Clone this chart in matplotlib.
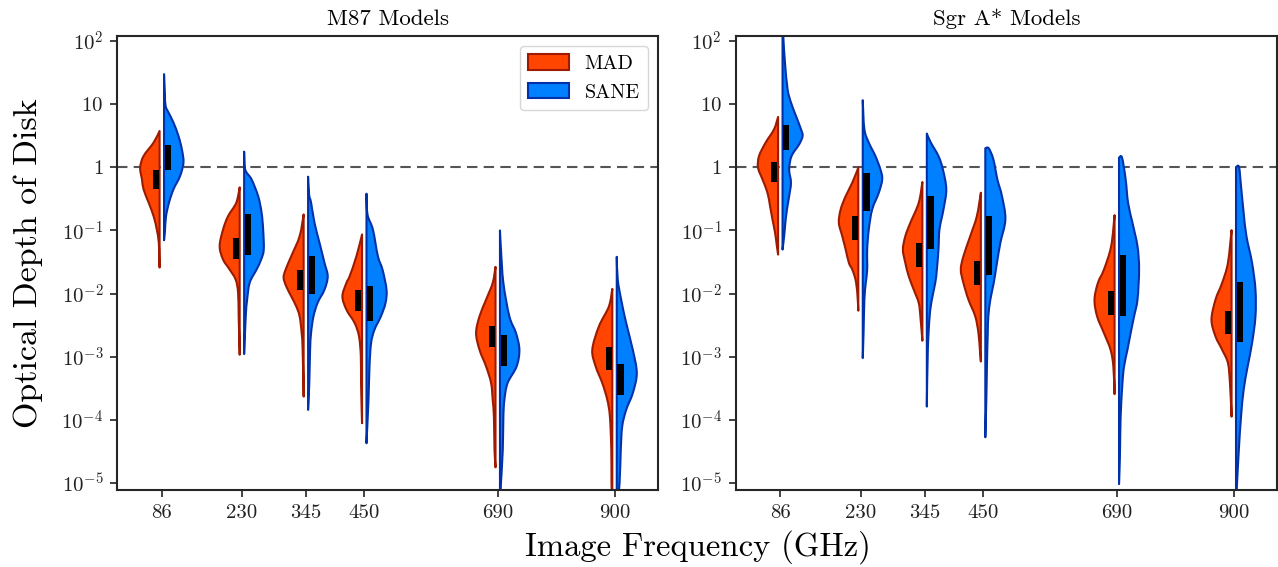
import matplotlib
matplotlib.use("Agg")
import matplotlib.pyplot as plt
import matplotlib.patches as patches
from matplotlib.path import Path
import numpy as np

plt.rcParams['font.family'] = ['cmr10', 'DejaVu Serif']
plt.rcParams['mathtext.fontset'] = 'cm'
plt.rcParams['axes.unicode_minus'] = False

freqs = [86, 230, 345, 450, 690, 900]
panel_titles = ['M87 Models', 'Sgr A* Models']
hue_names = ['MAD', 'SANE']
ytick_exp = [-5, -4, -3, -2, -1, 0, 1, 2]
ytick_labels = ['$10^{-5}$', '$10^{-4}$', '$10^{-3}$', '$10^{-2}$', '$10^{-1}$', '$1$', '$10$', '$10^{2}$']

# violin outlines: log10(tau) knots and relative half-width
m87_mad_logs = [
    [0.576, 0.392, 0.179, -0.005, -0.19, -0.349, -0.556, -0.773, -0.984, -1.19, -1.4, -1.587],
    [-0.317, -0.56, -0.773, -0.984, -1.249, -1.46, -1.619, -1.778, -1.984, -2.36, -2.968],
    [-0.746, -1.09, -1.408, -1.619, -1.746, -1.884, -2.043, -2.202, -2.36, -2.619, -2.889, -3.63],
    [-1.063, -1.408, -1.725, -1.83, -2.043, -2.254, -2.465, -2.678, -2.995, -3.413, -4.052],
    [-1.576, -1.83, -2.095, -2.36, -2.624, -2.889, -3.154, -3.417, -3.683, -3.948, -4.476, -4.751],
    [-1.925, -2.202, -2.519, -2.889, -3.154, -3.417, -3.683, -3.948, -4.476, -5.0, -5.4],
]
m87_mad_dens = [
    [0, .30, .80, .97, .88, .80, .55, .30, .14, .04, .02, 0],
    [0, .17, .58, .83, 1.0, .83, .50, .20, .08, .05, 0],
    [0, .20, .62, .90, 1.0, .87, .62, .37, .20, .10, .05, 0],
    [0, .28, .62, .78, .98, .78, .37, .15, .06, .05, 0],
    [0, .14, .47, .80, .97, .80, .47, .22, .14, .08, .05, 0],
    [0, .17, .67, 1.0, .83, .50, .25, .12, .05, .04, 0],
]
m87_mad_box = [(-0.043, -0.338), (-1.116, -1.444), (-1.62, -1.94), (-1.95, -2.28), (-2.51, -2.84), (-2.85, -3.21)]

m87_sane_logs = [
    [1.476, 1.159, 0.97, 0.87, 0.71, 0.497, 0.286, 0.075, -0.138, -0.349, -0.556, -0.773, -0.984, -1.154],
    [0.249, -0.032, -0.19, -0.456, -0.714, -0.984, -1.302, -1.46, -1.619, -1.825, -2.095, -2.365, -2.957],
    [-0.148, -0.429, -0.56, -0.878, -1.195, -1.513, -1.725, -1.937, -2.143, -2.36, -2.619, -2.889, -3.413, -3.841],
    [-0.417, -0.746, -0.984, -1.408, -1.619, -1.937, -2.148, -2.36, -2.571, -2.783, -3.154, -3.683, -4.37],
    [-1.0, -1.302, -1.83, -2.36, -2.624, -2.889, -3.154, -3.417, -3.683, -3.948, -4.476, -5.0, -5.4],
    [-1.417, -1.778, -2.095, -2.465, -2.889, -3.259, -3.576, -3.841, -4.106, -4.476, -5.0, -5.5],
]
m87_sane_dens = [
    [0, .04, .08, .22, .47, .72, .89, .97, .80, .47, .25, .10, .05, 0],
    [0, .05, .37, .70, .87, .95, .98, .85, .62, .28, .15, .08, 0],
    [0, .05, .15, .32, .57, .82, .98, .82, .48, .27, .15, .10, .06, 0],
    [0, .05, .32, .57, .80, 1.0, .95, .72, .40, .23, .15, .10, 0],
    [0, .05, .17, .47, .80, .97, .83, .38, .22, .17, .14, .05, 0],
    [0, .05, .22, .47, .80, 1.0, .80, .47, .27, .20, .14, 0],
]
m87_sane_box = [(0.349, -0.048), (-0.746, -1.381), (-1.41, -2.0), (-1.88, -2.43), (-2.65, -3.14), (-3.12, -3.61)]

sgr_mad_logs = [
    [0.798, 0.603, 0.392, 0.179, -0.005, -0.19, -0.402, -0.614, -0.825, -1.037, -1.249, -1.381],
    [-0.005, -0.243, -0.456, -0.667, -0.878, -1.09, -1.302, -1.513, -1.619, -1.778, -1.989, -2.27],
    [-0.233, -0.56, -0.878, -1.09, -1.302, -1.513, -1.725, -1.937, -2.148, -2.36, -2.746],
    [-0.402, -0.773, -1.09, -1.408, -1.619, -1.83, -2.095, -2.36, -2.624, -2.889, -3.075],
    [-0.757, -1.249, -1.619, -1.83, -2.095, -2.36, -2.624, -2.889, -3.154, -3.592],
    [-0.995, -1.513, -1.83, -2.095, -2.413, -2.678, -2.889, -3.1, -3.417, -3.948],
]
sgr_mad_dens = [
    [0, .20, .62, .95, 1.0, .78, .53, .40, .28, .15, .06, 0],
    [0, .30, .63, .88, .97, .80, .63, .47, .30, .14, .05, 0],
    [0, .18, .60, .85, .97, .85, .68, .43, .18, .10, 0],
    [0, .20, .53, .87, 1.0, .87, .62, .28, .12, .05, 0],
    [0, .17, .53, .83, 1.0, .87, .53, .20, .06, 0],
    [0, .18, .47, .80, 1.0, .80, .47, .18, .08, 0],
]
sgr_mad_box = [(0.09, -0.233), (-0.77, -1.15), (-1.195, -1.576), (-1.49, -1.87), (-1.96, -2.34), (-2.27, -2.635)]

sgr_sane_logs = [
    [2.3, 2.0, 1.662, 1.238, 1.027, 0.814, 0.603, 0.497, 0.365, 0.179, -0.032, -0.243, -0.456, -0.667, -0.878, -1.09, -1.302],
    [1.063, 0.603, 0.392, 0.179, -0.032, -0.19, -0.402, -0.667, -0.984, -1.302, -1.619, -1.83, -2.095, -2.619, -3.02],
    [0.535, 0.392, 0.179, -0.032, -0.349, -0.667, -0.984, -1.302, -1.619, -1.83, -2.095, -2.36, -2.889, -3.789],
    [0.302, 0.302, 0.127, -0.19, -0.456, -0.825, -1.195, -1.513, -1.83, -2.095, -2.36, -2.624, -3.154, -3.683, -4.275],
    [0.154, 0.154, -0.19, -0.56, -0.878, -1.249, -1.619, -2.095, -2.36, -2.624, -2.889, -3.154, -3.417, -3.948, -4.476, -5.016],
    [0.005, 0.005, -0.297, -0.719, -1.09, -1.513, -1.937, -2.36, -2.783, -3.154, -3.524, -3.948, -4.476, -5.005, -5.3],
]
sgr_sane_dens = [
    [0, .05, .12, .25, .42, .67, .92, 1.0, .83, .45, .33, .42, .33, .22, .14, .08, 0],
    [0, .08, .30, .63, .88, .97, .80, .47, .30, .22, .22, .15, .08, .04, 0],
    [0, .20, .58, .80, .97, .83, .63, .58, .50, .42, .25, .14, .05, 0],
    [0, .17, .40, .60, .83, 1.0, .75, .58, .42, .25, .15, .12, .08, .05, 0],
    [0, .15, .33, .45, .67, .92, 1.0, .92, .75, .58, .42, .25, .17, .08, .05, 0],
    [0, .15, .25, .38, .52, .80, .97, .97, .80, .58, .38, .25, .14, .05, 0],
]
sgr_sane_box = [(0.67, 0.275), (-0.095, -0.69), (-0.455, -1.29), (-0.77, -1.70), (-1.386, -2.36), (-1.815, -2.77)]

panels = [
    [(m87_mad_logs, m87_mad_dens, m87_mad_box), (m87_sane_logs, m87_sane_dens, m87_sane_box)],
    [(sgr_mad_logs, sgr_mad_dens, sgr_mad_box), (sgr_sane_logs, sgr_sane_dens, sgr_sane_box)],
]

face_colors = ['#FF4500', '#0080FF']
edge_colors = ['#9E1A00', '#0031A8']
half_width = 36.0   # GHz, widest part of each half
gap = 4.0           # GHz, each half sits this far from the centre
box_w = 11.0


def smooth_outline(xs, ls, base, side):
    # bezier path through the knots (built in x / log10 space)
    pts = np.column_stack([xs, ls])
    n = len(pts)
    ext = np.vstack([pts[0], pts, pts[-1]])
    verts = [pts[0]]
    codes = [Path.MOVETO]
    for i in range(n - 1):
        p0, p1, p2, p3 = ext[i], ext[i + 1], ext[i + 2], ext[i + 3]
        c1 = p1 + (p2 - p0) / 6.0
        c2 = p2 - (p3 - p1) / 6.0
        for c in (c1, c2):
            if side * (c[0] - base) < 0:
                c[0] = base
        verts += [c1, c2, p2]
        codes += [Path.CURVE4] * 3
    verts += [np.array([base, ls[-1]]), np.array([base, ls[0]]), pts[0]]
    codes += [Path.LINETO, Path.LINETO, Path.CLOSEPOLY]
    verts = np.array(verts, dtype=float)
    verts[:, 1] = 10.0 ** verts[:, 1]
    return Path(verts, codes)


def draw_half(ax, x0, logs, dens, q, side, fc, ec):
    logs = np.array(logs, dtype=float)
    dens = np.array(dens, dtype=float)
    base = x0 + side * gap
    xs = base + side * dens * half_width
    path = smooth_outline(xs, logs, base, side)
    ax.add_patch(patches.PathPatch(path, facecolor=fc, edgecolor=ec, lw=1.5,
                                   joinstyle='round', zorder=2))
    # inner quartile box
    inner = base + side * 1.2
    outer = inner + side * box_w
    ax.fill_betweenx([10 ** q[1], 10 ** q[0]], min(inner, outer), max(inner, outer),
                     color='black', lw=0, zorder=3)


fig = plt.figure(figsize=(12.78, 5.67), dpi=100)
ax_l = fig.add_axes([0.0918, 0.1358, 0.4230, 0.8007])
ax_r = fig.add_axes([0.5757, 0.1358, 0.4237, 0.8007])

for ax, title, panel in zip([ax_l, ax_r], panel_titles, panels):
    ax.set_yscale('log')
    ax.axhline(1.0, color='#555555', ls=(0, (5, 3)), lw=1.5, zorder=1)
    for side, (logs_all, dens_all, box_all), fc, ec in zip([-1, 1], panel, face_colors, edge_colors):
        for f, logs, dens, q in zip(freqs, logs_all, dens_all, box_all):
            draw_half(ax, f, logs, dens, q, side, fc, ec)
    ax.set_xlim(6, 978)
    ax.set_ylim(10 ** -5.11, 10 ** 2.08)
    ax.set_xticks(freqs)
    ax.set_xticklabels([str(f) for f in freqs], fontsize=15)
    ax.set_yticks([10.0 ** e for e in ytick_exp])
    ax.set_yticklabels(ytick_labels, fontsize=15)
    ax.minorticks_off()
    ax.tick_params(direction='out', length=5, width=1.2, colors='#222222', pad=5)
    for sp in ax.spines.values():
        sp.set_linewidth(1.5)
        sp.set_color('#262626')
    ax.set_title(title, fontsize=16.5, pad=8)

ax_l.set_ylabel('Optical Depth of Disk', fontsize=24.5, labelpad=13)
fig.text(0.546, 0.006, 'Image Frequency (GHz)', fontsize=23.5, ha='center', va='bottom')

handles = [patches.Patch(facecolor=fc, edgecolor=ec, lw=1.5, label=n)
           for fc, ec, n in zip(face_colors, edge_colors, hue_names)]
ax_l.legend(handles=handles, loc='upper right', fontsize=14.5, frameon=True,
            borderaxespad=0.5, handlelength=2.0, handleheight=0.8)

fig.savefig('out.png', dpi=100)
